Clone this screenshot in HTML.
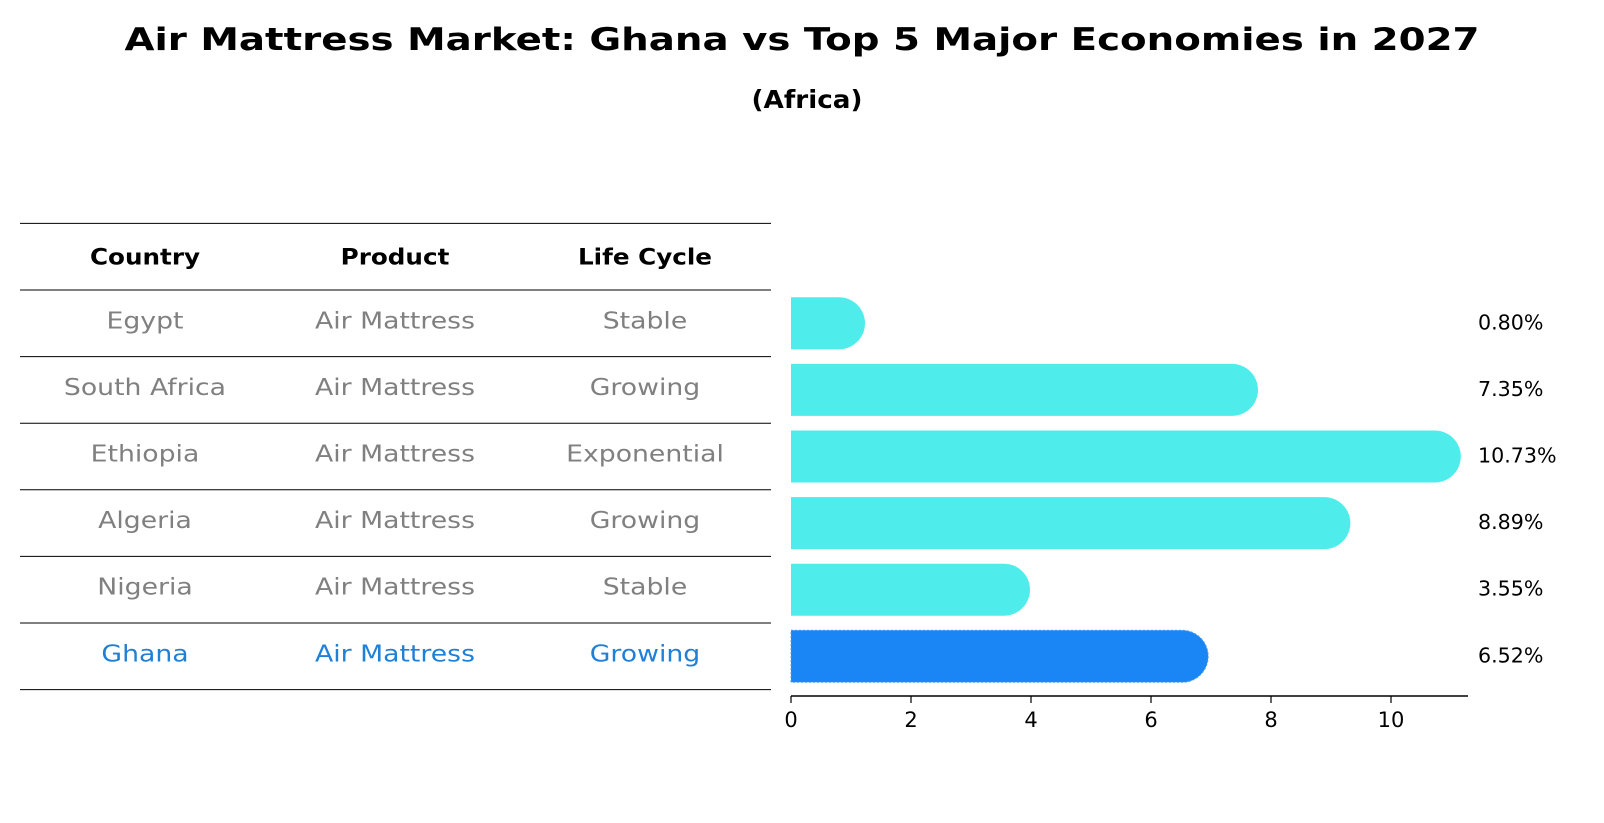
<!DOCTYPE html>
<html><head><meta charset="utf-8"><style>
body{margin:0;background:#fff;}
svg{display:block;font-family:"DejaVu Sans","Liberation Sans",sans-serif;}
</style></head><body>
<svg id="chart" width="1604" height="823" viewBox="0 0 1604 823">
<text id="title" x="802" y="50" text-anchor="middle" font-size="31" font-weight="bold">Air Mattress Market: Ghana vs Top 5 Major Economies in 2027</text>
<text id="subtitle" x="807" y="108" text-anchor="middle" font-size="25" font-weight="bold">(Africa)</text>
<g id="table"></g>
<g id="bars"></g>
<g id="axis"></g>
</svg>
<script>
const countries = ["Egypt","South Africa","Ethiopia","Algeria","Nigeria","Ghana"];
const products = ["Air Mattress","Air Mattress","Air Mattress","Air Mattress","Air Mattress","Air Mattress"];
const lifeCycles = ["Stable","Growing","Exponential","Growing","Stable","Growing"];
const values = [0.80,7.35,10.73,8.89,3.55,6.52];
const valueLabels = ["0.80%","7.35%","10.73%","8.89%","3.55%","6.52%"];
const xTicks = [0,2,4,6,8,10];
const highlight = "Ghana";

const NS="http://www.w3.org/2000/svg";
function mk(tag, attrs, parent){const e=document.createElementNS(NS,tag);for(const k in attrs)e.setAttribute(k,attrs[k]);parent.appendChild(e);return e;}
function stretch(t,f){const w=t.getComputedTextLength();t.setAttribute('textLength',w*f);t.setAttribute('lengthAdjust','spacingAndGlyphs');}
const x0=791, pxPerUnit=60, axisY=696, axisEnd=1468;
const xs=v=>x0+v*pxPerUnit;
const rowTop=290, rowH=66.6;
const rowCenter=i=>rowTop+rowH*(i+0.5);
const table=document.getElementById('table');
const bars=document.getElementById('bars');
const axis=document.getElementById('axis');
const tt=document.getElementById('title');
tt.setAttribute('textLength',1355);tt.setAttribute('lengthAdjust','spacingAndGlyphs');
stretch(document.getElementById('subtitle'),1.05);
const cols=[145,395,645];
const hdr=["Country","Product","Life Cycle"];
hdr.forEach((h,j)=>{
  const t=mk('text',{x:cols[j],y:rowTop-rowH/2+8,'text-anchor':'middle','font-size':22,'font-weight':'bold'},table);
  t.textContent=h;
  
  
  stretch(t,1.12);
});
for(let i=0;i<=countries.length+1;i++){
  const y=rowTop-rowH+rowH*i;
  const l=mk('line',{x1:20,x2:771,y1:y,y2:y,stroke:'#000','stroke-width':1},table);
  
  
}
countries.forEach((c,i)=>{
  const col=c===highlight?'#1f80d8':'#808080';
  [c,products[i],lifeCycles[i]].forEach((txt,j)=>{
    const t=mk('text',{x:cols[j],y:rowCenter(i)+5,'text-anchor':'middle','font-size':23,fill:col},table);
    t.textContent=txt;
    
    
    stretch(t,1.16);
  });
  const h=52, r=26, cy=rowCenter(i), xe=xs(values[i]);
  const fill=c===highlight?'#1a86f5':'#4eedeb';
  const p=mk('path',{d:`M${x0},${cy-h/2} L${xe},${cy-h/2} A${r},${r} 0 0 1 ${xe},${cy+h/2} L${x0},${cy+h/2} Z`,fill:fill},bars);
  if(c===highlight){p.setAttribute('stroke','#4aa0f0');p.setAttribute('stroke-dasharray','2,2');p.setAttribute('stroke-width','1');}
  
  
  const lt=mk('text',{x:1478,y:cy+6,'font-size':20,fill:'#000'},bars);
  lt.textContent=valueLabels[i];
  
  
  stretch(lt,1.03);
});
const al=mk('line',{x1:x0,x2:axisEnd,y1:axisY,y2:axisY,stroke:'#000','stroke-width':1.5},axis);


xTicks.forEach(v=>{
  const tk=mk('line',{x1:xs(v),x2:xs(v),y1:axisY,y2:axisY+7,stroke:'#000','stroke-width':1.2},axis);
  
  
  const t=mk('text',{x:xs(v),y:axisY+31,'text-anchor':'middle','font-size':21},axis);
  t.textContent=String(v);
  
  
});
</script>
</body></html>
